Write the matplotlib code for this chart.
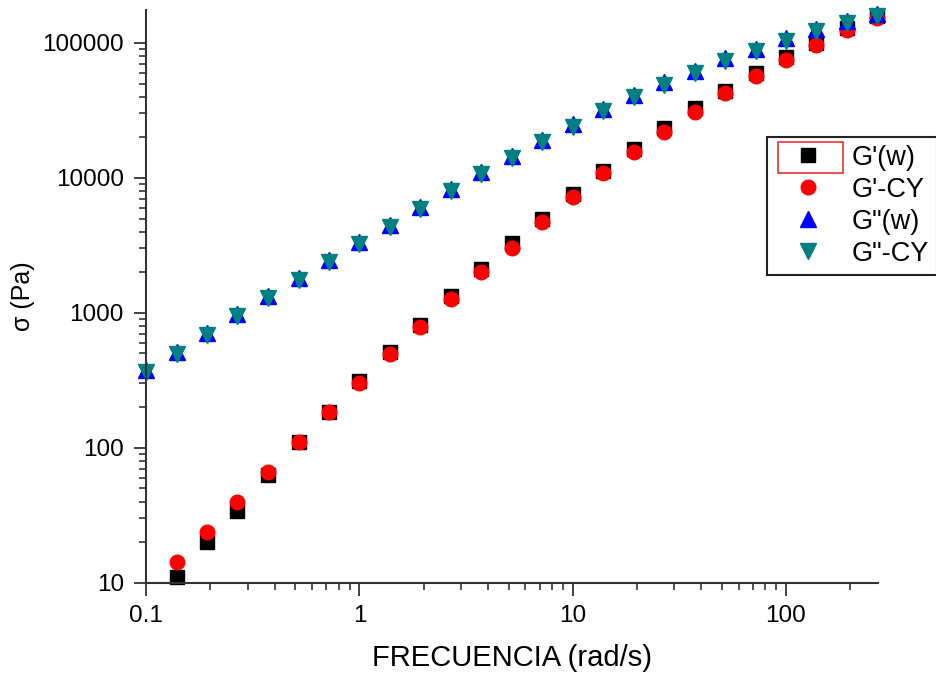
import matplotlib
matplotlib.use("Agg")
import matplotlib.pyplot as plt
from matplotlib.ticker import FuncFormatter, LogLocator
from matplotlib.patches import Rectangle

plt.rcParams['font.family'] = ['Liberation Sans', 'DejaVu Sans']

# frecuencia (rad/s)
freq = [0.1, 0.139, 0.193, 0.268, 0.373, 0.518, 0.72, 1.0, 1.39, 1.93, 2.68, 3.73,
        5.18, 7.2, 10.0, 13.9, 19.3, 26.8, 37.3, 51.8, 72.0, 100.0, 139.0, 193.0, 268.0]

# G'(w) -- no point visible at 0.1 (below 10 Pa)
g1_w = [None, 11, 20, 34, 63, 111, 185, 313, 514, 815, 1336, 2120,
        3300, 4970, 7600, 11270, 16400, 23400, 33000, 44100, 60000, 78800, 100000, 129000, 158000]
g1_cy = [None, 14.3, 23.9, 40, 66, 111, 185, 303, 495, 785, 1270, 2000,
         3040, 4750, 7250, 10800, 15500, 22000, 31000, 42500, 57000, 75000, 97000, 125000, 152000]
g2_w = [378, 514, 711, 980, 1340, 1815, 2470, 3360, 4490, 6100, 8300, 11070,
        14550, 19100, 25100, 32400, 41200, 51400, 62100, 77500, 90300, 109000, 127000, 146000, 164000]
g2_cy = [362, 495, 690, 950, 1290, 1760, 2400, 3250, 4350, 5900, 8000, 10700,
         14000, 18400, 24000, 31200, 39500, 49000, 59500, 73500, 87000, 103000, 122000, 140000, 158000]

labels = ["G'(w)", "G'-CY", 'G"(w)', 'G"-CY']


def clean(xs, ys):
    pts = [(x, y) for x, y in zip(xs, ys) if y is not None]
    return [p[0] for p in pts], [p[1] for p in pts]


fig = plt.figure(figsize=(9.37, 6.73), dpi=100)
ax = fig.add_axes([0.156, 0.134, 0.781, 0.851])

x, y = clean(freq, g1_w)
ax.plot(x, y, 's', color='black', ms=10, ls='none', label=labels[0], clip_on=False)
x, y = clean(freq, g1_cy)
ax.plot(x, y, 'o', color='red', ms=10.5, ls='none', label=labels[1], clip_on=False)
ax.plot(freq, g2_w, '^', color='blue', ms=11, ls='none', label=labels[2], clip_on=False)
ax.plot(freq, g2_cy, 'v', color='#008080', ms=11, ls='none', label=labels[3], clip_on=False)

ax.set_xscale('log')
ax.set_yscale('log')
ax.set_xlim(0.1, 270)
ax.set_ylim(10, 175000)

fmt = FuncFormatter(lambda v, p: ('%g' % v) if v < 1 else '%d' % round(v))
ax.xaxis.set_major_formatter(fmt)
ax.yaxis.set_major_formatter(fmt)
ax.xaxis.set_minor_locator(LogLocator(base=10, subs=range(2, 10), numticks=20))
ax.yaxis.set_minor_locator(LogLocator(base=10, subs=range(2, 10), numticks=20))
ax.tick_params(which='major', direction='out', length=9, width=1.3, labelsize=17.5,
               color='#333333', pad=7)
ax.tick_params(which='minor', direction='out', length=5, width=1.2, color='#333333')

for s in ['top', 'right']:
    ax.spines[s].set_visible(False)
for s in ['left', 'bottom']:
    ax.spines[s].set_linewidth(1.5)
    ax.spines[s].set_color('#333333')

ax.set_xlabel('FRECUENCIA (rad/s)', fontsize=21, labelpad=12)
ax.set_ylabel('σ (Pa)', fontsize=18, labelpad=5)

leg = fig.legend(loc='upper left', bbox_to_anchor=(0.819, 0.797), fontsize=19.5,
                 frameon=True, fancybox=False, edgecolor='#222222', framealpha=1,
                 borderaxespad=0, handlelength=2.4, handletextpad=0.4,
                 labelspacing=0.22, borderpad=0.3)
leg.get_frame().set_linewidth(1.5)

# red selection box around first legend marker
sel = Rectangle((778 / 937, 1 - 173 / 673), 65 / 937, 31 / 673,
                transform=fig.transFigure, fill=False, edgecolor='#ee3333', lw=1.2, zorder=10)
fig.add_artist(sel)

fig.savefig('out.png', dpi=100)
